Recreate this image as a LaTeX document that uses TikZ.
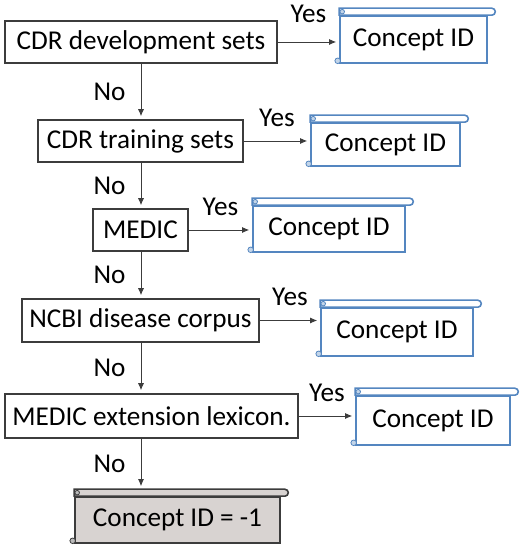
\documentclass[tikz,border=0pt]{standalone}
\usepackage{fontspec}
\setmainfont{Carlito}
\usetikzlibrary{arrows.meta, calc}
\definecolor{scrollblue}{RGB}{84,134,192}
\definecolor{endgray}{RGB}{216,211,209}
\definecolor{linegray}{RGB}{60,60,60}

\begin{document}
\begin{tikzpicture}[x=1pt, y=1pt,
    every node/.style={font=\fontsize{27.2}{31}\selectfont, inner sep=0pt},
    stepbox/.style={draw=linegray, line width=1.5pt, fill=white},
    scrollbox/.style={draw=scrollblue, line width=1.6pt, fill=white},
    endbox/.style={draw=linegray, line width=1.6pt, fill=endgray},
    flow/.style={draw=linegray, line width=0.9pt, -{Latex[length=7pt, width=6pt]}, shorten >=3pt}]
    \useasboundingbox (0,0) rectangle (520,552);

    % Lookup steps
    \node[stepbox, minimum width=272, minimum height=42] (dev) at (141,510) {CDR development sets};
    \node[stepbox, minimum width=205, minimum height=42] (train) at (140.5,411) {CDR training sets};
    \node[stepbox, minimum width=95, minimum height=42] (medic) at (140.5,322) {MEDIC};
    \node[stepbox, minimum width=237, minimum height=43] (ncbi) at (140.5,231.5) {NCBI disease corpus};
    \node[stepbox, minimum width=293, minimum height=44] (lex) at (151.5,136) {MEDIC extension lexicon.};

    % Results
    \node[scrollbox, minimum width=147, minimum height=47] (cid1) at (413.5,512.5) {Concept ID};
    \node[scrollbox, minimum width=149, minimum height=43] (cid2) at (385.5,407.5) {Concept ID};
    \node[scrollbox, minimum width=152, minimum height=46] (cid3) at (329,323) {Concept ID};
    \node[scrollbox, minimum width=152, minimum height=48] (cid4) at (397,220) {Concept ID};
    \node[scrollbox, minimum width=154, minimum height=49] (cid5) at (433,131.5) {Concept ID};
    \node[endbox, minimum width=205, minimum height=46] (none) at (177.5,32) {Concept ID = -1};

    % Scroll rolls
    \foreach \n/\c/\f in {cid1/scrollblue/white, cid2/scrollblue/white, cid3/scrollblue/white,
                          cid4/scrollblue/white, cid5/scrollblue/white, none/linegray/endgray} {
        \draw[draw=\c, fill=\f, line width=1.6pt] (\n.north west) -- ++(0,7)
            -- ($(\n.north east)+(4,7)$) arc[start angle=90, end angle=-90, radius=3.5] -- cycle;
        \draw[draw=\c, fill=\c!35, line width=0.8pt] ($(\n.north west)+(3,3.5)$) circle[radius=2.3];
        \draw[draw=\c, fill=\c!35, line width=0.8pt] ($(\n.south west)+(-1.5,3)$) circle[radius=2.8];
    }

    % Yes branches
    \draw[flow] (dev.east) -- (dev.east -| cid1.west) node[midway, above=19pt] (yes1) {Yes};
    \draw[flow] (train.east) -- (train.east -| cid2.west) node[midway, above=14pt] (yes2) {Yes};
    \draw[flow] (medic.east) -- (medic.east -| cid3.west) node[midway, above=14pt] (yes3) {Yes};
    \draw[flow] (ncbi.east) -- (ncbi.east -| cid4.west) node[midway, above=14pt] (yes4) {Yes};
    \draw[flow] (lex.east) -- (lex.east -| cid5.west) node[midway, above=14pt] (yes5) {Yes};

    % No branches
    \draw[flow] (dev.south) -- (dev.south |- train.north) node[midway, left=15pt] (no1) {No};
    \draw[flow] (train.south -| dev.south) -- (medic.north -| dev.south) node[midway, left=15pt] (no2) {No};
    \draw[flow] (medic.south -| dev.south) -- (ncbi.north -| dev.south) node[midway, left=15pt] (no3) {No};
    \draw[flow] (ncbi.south -| dev.south) -- (lex.north -| dev.south) node[midway, left=15pt] (no4) {No};
    \draw[flow] (lex.south -| dev.south) -- ($(none.north -| dev.south)+(0,7)$) node[midway, left=15pt] (no5) {No};
\end{tikzpicture}
\end{document}
